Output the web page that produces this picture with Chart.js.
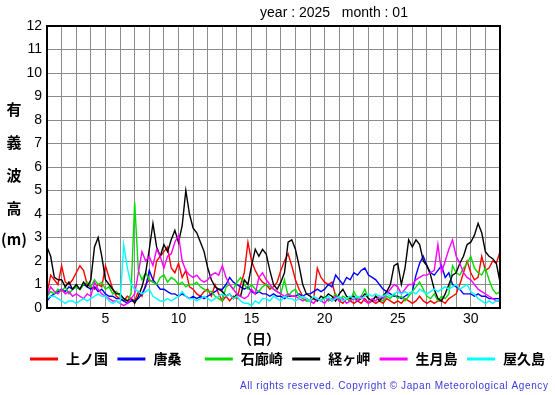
<!DOCTYPE html>
<html>
<head>
<meta charset="utf-8">
<script src="https://cdn.jsdelivr.net/npm/chart.js@4.4.1/dist/chart.umd.min.js"></script>
<style>
  html, body { margin: 0; padding: 0; background: #fff; }
  #wrap { width: 555px; height: 395px; }
</style>
</head>
<body>
<div id="wrap"><canvas id="waveChart" width="555" height="395"></canvas></div>
<script>
// significant wave height, 6-hourly readings, 2025-01 (day 1.00 .. 32.00)
const stations = ["上ノ国", "唐桑", "石廊崎", "経ヶ岬", "生月島", "屋久島"];
const lineColors = ["#ff0000", "#0000ff", "#00dd00", "#000000", "#ff00ff", "#00ffff"];
const yTicks = [0, 1, 2, 3, 4, 5, 6, 7, 8, 9, 10, 11, 12];
const dayLabels = [5, 10, 15, 20, 25, 30];

const kaminokuni = [
  0.6, 1.4, 1.2, 1.0,  1.8, 1.1, 1.0, 1.2,  1.5, 1.8, 1.6, 1.0,  0.9, 0.8, 1.0, 0.9,
  1.8, 1.3, 0.8, 0.5,  0.4, 0.3, 0.5, 0.4,  0.3, 0.7, 0.5, 1.0,  1.2, 1.1, 2.0, 2.2,
  2.4, 2.6, 1.7, 1.5,  1.9, 1.3, 1.6, 0.9,  0.8, 0.6, 0.5, 0.7,  0.8, 0.5, 1.0, 0.6,
  0.3, 0.5, 0.3, 0.5,  0.4, 1.0, 1.5, 2.8,  2.0, 1.6, 1.3, 1.1,  1.0, 0.8, 0.9, 1.1,
  1.6, 2.0, 2.3, 1.8,  1.2, 0.8, 0.5, 0.4,  0.3, 0.4, 1.7, 1.3,  1.1, 1.0, 1.1, 0.5,
  0.3, 0.2, 0.4, 0.3,  0.2, 0.3, 0.2, 0.4,  0.2, 0.3, 0.2, 0.3,  0.2, 0.4, 0.3, 0.2,
  0.3, 0.2, 0.4, 0.3,  0.2, 0.3, 0.5, 0.3,  0.2, 0.3, 0.2, 0.3,  0.3, 0.2, 0.4, 0.5,
  0.6, 1.0, 1.5, 2.0,  1.5, 1.2, 1.3, 2.2,  1.6, 1.7, 2.0, 1.9,  2.4
];
const karakuwa = [
  0.3, 0.5, 0.6, 0.7,  0.8, 0.7, 0.9, 0.8,  0.9, 0.8, 1.0, 0.9,  0.8, 0.9, 0.7, 0.8,
  0.6, 0.5, 0.5, 0.4,  0.4, 0.3, 0.2, 0.3,  0.3, 0.4, 0.6, 0.9,  1.6, 1.2, 1.0, 0.8,
  0.8, 0.7, 0.6, 0.6,  0.5, 0.6, 0.5, 0.4,  0.5, 0.4, 0.5, 0.4,  0.5, 0.6, 0.7, 0.8,
  0.8, 1.0, 1.3, 1.1,  1.0, 0.9, 0.8, 0.9,  0.7, 0.6, 0.7, 0.6,  0.6, 0.5, 0.6, 0.5,
  0.5, 0.4, 0.5, 0.5,  0.5, 0.6, 0.5, 0.6,  0.6, 0.7, 0.8, 0.7,  0.8, 1.0, 0.9, 1.4,
  1.2, 1.0, 1.3, 1.2,  1.5, 1.4, 1.6, 1.7,  1.4, 1.3, 1.2, 1.0,  0.8, 0.7, 0.6, 0.5,
  0.5, 0.4, 0.5, 0.6,  0.7, 1.4, 1.9, 2.2,  1.8, 1.5, 1.4, 1.6,  1.8, 1.3, 1.5, 1.0,
  0.9, 0.8, 0.6, 0.6,  0.6, 0.5, 0.6, 0.5,  0.5, 0.4, 0.4, 0.4,  0.4
];
const irozaki = [
  0.5, 0.7, 0.6, 0.8,  0.7, 0.9, 0.6, 0.8,  0.9, 0.8, 1.0, 1.1,  0.9, 1.2, 1.0, 1.1,
  0.8, 0.9, 0.6, 0.7,  0.5, 0.4, 0.3, 0.6,  4.5, 1.6, 1.2, 1.5,  1.2, 1.1, 1.0, 1.3,
  1.4, 1.1, 1.3, 1.2,  1.0, 1.1, 0.9, 1.0,  1.0, 1.1, 0.9, 0.8,  0.7, 0.7, 0.5, 0.4,
  0.3, 0.9, 1.0, 0.8,  1.1, 1.3, 1.0, 0.8,  1.0, 0.8, 0.7, 0.9,  1.0, 0.9, 0.8, 0.7,
  0.6, 1.2, 0.5, 0.7,  0.8, 0.5, 0.4, 0.3,  0.3, 0.2, 0.4, 0.3,  0.5, 0.3, 0.4, 0.6,
  0.3, 0.5, 0.4, 0.3,  0.7, 0.4, 0.5, 0.8,  0.4, 0.3, 0.5, 0.4,  0.3, 0.5, 0.4, 0.6,
  0.4, 0.5, 0.3, 0.5,  0.7, 0.9, 1.1, 0.8,  0.5, 0.4, 0.6, 0.3,  0.5, 0.4, 0.6, 1.8,
  1.5, 1.4, 1.7, 1.9,  2.2, 1.7, 1.5, 1.4,  1.7, 1.2, 0.8, 0.6,  0.7
];
const kyogamisaki = [
  2.6, 2.2, 1.3, 1.2,  1.2, 0.9, 1.1, 0.8,  1.0, 0.8, 1.1, 0.9,  1.2, 2.6, 3.0, 2.2,
  1.2, 1.0, 0.8, 0.6,  0.6, 0.4, 0.3, 0.4,  0.2, 0.5, 0.9, 1.5,  2.5, 3.6, 2.6, 2.2,
  2.7, 2.4, 2.9, 3.3,  2.8, 3.5, 5.0, 4.0,  3.4, 3.2, 2.8, 2.4,  1.7, 1.2, 0.9, 0.8,
  0.7, 0.5, 0.6, 0.4,  0.6, 0.5, 1.2, 1.0,  1.8, 2.5, 2.2, 2.5,  2.3, 1.6, 1.0, 0.8,
  1.1, 1.5, 2.8, 2.9,  2.5, 1.8, 1.0, 0.6,  0.5, 0.4, 0.3, 0.5,  0.4, 0.6, 0.5, 0.3,
  0.6, 0.8, 0.5, 0.4,  0.5, 0.3, 0.4, 0.6,  0.4, 0.3, 0.5, 0.3,  0.5, 0.7, 1.0, 1.8,
  1.9, 1.0, 1.7, 2.9,  2.6, 2.9, 2.7, 2.0,  1.8, 1.4, 0.8, 0.4,  0.3, 0.6, 1.0, 1.4,
  1.5, 1.9, 2.2, 2.7,  2.8, 3.1, 3.6, 3.2,  2.4, 2.2, 2.1, 1.9,  1.1
];
const ikitsukishima = [
  0.5, 0.9, 0.7, 0.6,  0.8, 0.6, 0.7, 0.5,  0.6, 0.5, 0.4, 0.6,  0.5, 1.1, 0.8, 0.6,
  0.5, 0.4, 0.3, 0.3,  0.2, 0.1, 0.2, 0.4,  0.6, 1.5, 2.4, 2.0,  2.2, 1.8, 2.5, 2.2,
  1.7, 2.2, 2.3, 2.8,  3.1, 2.0, 1.6, 1.4,  1.3, 1.4, 1.2, 1.1,  1.2, 1.4, 1.5, 1.4,
  1.8, 1.3, 1.0, 0.8,  0.6, 0.5, 0.4, 0.5,  0.8, 0.6, 1.3, 1.5,  1.2, 1.0, 0.8, 0.7,
  0.6, 0.5, 0.6, 0.5,  0.5, 0.4, 0.3, 0.4,  0.3, 0.2, 0.4, 0.3,  0.2, 0.4, 0.3, 0.5,
  0.3, 0.4, 0.2, 0.3,  0.4, 0.3, 0.5, 0.3,  0.2, 0.4, 0.3, 0.5,  0.4, 0.6, 0.8, 1.0,
  0.9, 0.6, 0.8, 1.0,  1.0, 1.2, 1.3, 1.4,  1.4, 1.5, 1.6, 2.7,  1.5, 2.0, 2.5, 2.9,
  2.2, 1.9, 1.5, 1.3,  1.2, 1.0, 0.8, 0.7,  0.6, 0.5, 0.4, 0.3,  0.3
];
const yakushima = [
  0.4, 0.5, 0.5, 0.4,  0.3, 0.2, 0.3, 0.3,  0.2, 0.3, 0.4, 0.3,  0.4, 0.5, 0.6, 0.5,
  0.5, 0.3, 0.2, 0.3,  0.2, 2.7, 1.7, 1.0,  0.8, 0.7, 0.6, 0.7,  0.8, 0.5, 0.4, 0.3,
  0.3, 0.4, 0.3, 0.4,  0.5, 0.7, 0.5, 0.4,  0.4, 0.3, 0.4, 0.5,  0.4, 0.3, 0.4, 0.5,
  0.6, 0.5, 0.6, 0.4,  0.5, 0.3, 0.2, 0.2,  0.1, 0.3, 0.2, 0.4,  0.4, 0.3, 0.5, 0.4,
  0.3, 0.5, 0.4, 0.4,  0.3, 0.4, 0.5, 0.4,  0.3, 0.5, 0.4, 0.3,  0.4, 0.5, 0.3, 0.4,
  0.5, 0.3, 0.4, 0.5,  0.4, 0.5, 0.4, 0.5,  0.6, 0.5, 0.6, 0.5,  0.5, 0.6, 0.5, 0.6,
  0.7, 0.6, 0.7, 0.6,  0.7, 0.6, 0.8, 0.7,  0.6, 0.7, 0.8, 0.7,  0.8, 0.9, 0.8, 0.9,
  1.0, 0.8, 0.9, 1.0,  0.7, 0.6, 0.4, 0.3,  0.2, 0.3, 0.2, 0.3,  0.3
];

const series = [kaminokuni, karakuwa, irozaki, kyogamisaki, ikitsukishima, yakushima];

function toPoints(vals) {
  return vals.map((v, i) => ({ x: 1 + i / 4, y: v }));
}

const cjk = '"Noto Sans CJK JP", "Noto Sans", sans-serif';
const latin = '"Liberation Sans", Arial, sans-serif';

const decorations = {
  id: 'decorations',
  afterDraw(chart) {
    const ctx = chart.ctx;
    const area = chart.chartArea;
    ctx.save();

    // frame
    ctx.strokeStyle = '#000';
    ctx.lineWidth = 2;
    ctx.strokeRect(area.left, area.top, area.right - area.left, area.bottom - area.top);

    // title
    ctx.fillStyle = '#000';
    ctx.font = '14px ' + latin;
    ctx.textAlign = 'center';
    ctx.textBaseline = 'middle';
    ctx.fillText('year : 2025   month : 01', 334, 13);

    // y axis title, stacked
    ctx.font = 'bold 15px ' + cjk;
    const yChars = ['有', '義', '波', '高'];
    yChars.forEach((c, i) => ctx.fillText(c, 14, 109 + i * 33));
    ctx.fillText('(m)', 14, 239);

    // x axis title
    ctx.font = 'bold 14px ' + cjk;
    ctx.fillText('（日）', 259, 339);

    // legend
    ctx.textAlign = 'left';
    ctx.font = 'bold 14px ' + cjk;
    stations.forEach((name, i) => {
      const x0 = 30 + i * 87.4;
      ctx.strokeStyle = lineColors[i];
      ctx.lineWidth = 3;
      ctx.beginPath();
      ctx.moveTo(x0, 359);
      ctx.lineTo(x0 + 28, 359);
      ctx.stroke();
      ctx.fillStyle = '#000';
      ctx.fillText(name, x0 + 36, 359);
    });

    // copyright
    const note = 'All rights reserved. Copyright © Japan Meteorological Agency';
    ctx.font = '10px ' + latin;
    ctx.fillStyle = '#3a3ae0';
    const w = ctx.measureText(note).width;
    ctx.letterSpacing = ((308 - w) / (note.length - 1)).toFixed(2) + 'px';
    ctx.textAlign = 'left';
    ctx.fillText(note, 240, 386);
    ctx.restore();
  }
};

new Chart(document.getElementById('waveChart'), {
  type: 'line',
  data: {
    datasets: series.map((vals, i) => ({
      label: stations[i],
      data: toPoints(vals),
      borderColor: lineColors[i],
      borderWidth: 1.4,
      pointRadius: 0,
      fill: false,
      tension: 0,
      order: 5 - i
    }))
  },
  options: {
    responsive: false,
    animation: false,
    events: [],
    layout: { padding: { left: 0, right: 55, top: 26, bottom: 0 } },
    plugins: {
      legend: { display: false },
      title: { display: false },
      tooltip: { enabled: false }
    },
    scales: {
      x: {
        type: 'linear',
        min: 1,
        max: 32,
        afterFit: (scale) => { scale.height = 87; },
        grid: { color: '#8c8c8c', lineWidth: 1, drawTicks: false },
        border: { display: false },
        ticks: {
          stepSize: 1,
          autoSkip: false,
          maxRotation: 0,
          padding: 3,
          color: '#000',
          font: { family: latin, size: 14 },
          callback: (v) => dayLabels.includes(v) ? String(v) : ''
        }
      },
      y: {
        min: yTicks[0],
        max: yTicks[yTicks.length - 1],
        afterFit: (scale) => { scale.width = 47; },
        grid: { color: '#8c8c8c', lineWidth: 1, drawTicks: false },
        border: { display: false },
        ticks: {
          stepSize: 1,
          padding: 5,
          color: '#000',
          font: { family: latin, size: 14 }
        }
      }
    }
  },
  plugins: [decorations]
});
</script>
</body>
</html>
